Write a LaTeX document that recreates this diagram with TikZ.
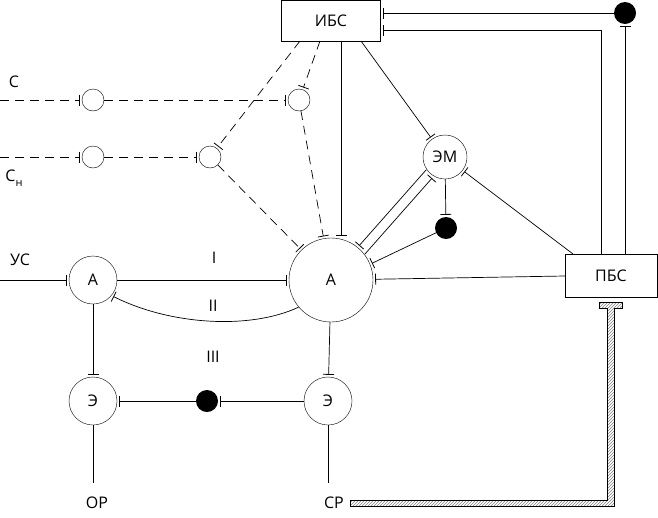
\documentclass[tikz,border=0pt]{standalone}
\usepackage{fontspec}
\setmainfont{Open Sans}
\usetikzlibrary{arrows.meta,patterns}
\begin{document}
\begin{tikzpicture}[x=1pt,y=-1pt,
  every node/.style={font=\fontsize{16}{18}\selectfont},
  c/.style={circle,draw,inner sep=0pt,minimum size=#1},
  dot/.style={circle,fill=black,inner sep=0pt,minimum size=22pt},
  box/.style={draw,inner sep=0pt},
  ln/.style={line width=0.7pt},
  bb/.style={ln,-{Bar[width=11pt,line width=0.8pt]},shorten >=2pt},
  bd/.style={bb,dash pattern=on 9pt off 6pt},
  lbl/.style={inner sep=0pt}]
\useasboundingbox (0,0) rectangle (658,517);
\node[box,minimum width=99pt,minimum height=41pt] (ibs) at (331,21) {ИБС};
\node[box,minimum width=92pt,minimum height=43pt] (pbs) at (611,276) {ПБС};
\node[c=84pt] (A) at (331,280) {А};
\node[c=44pt] (em) at (445,157) {ЭМ};
\node[dot] (d1) at (446,228) {};
\node[dot] (d2) at (625,13) {};
\node[dot] (d3) at (207,401) {};
\node[c=48pt] (a1) at (93,280) {А};
\node[c=48pt] (e1) at (93,401) {Э};
\node[c=48pt] (e2) at (328,401) {Э};
\node[c=22pt] (s1) at (93,100) {};
\node[c=22pt] (s2) at (299,100) {};
\node[c=22pt] (s3) at (93,157) {};
\node[c=22pt] (s4) at (210,157) {};
\coordinate (cin) at (0,100);
\coordinate (cnin) at (0,157);
\coordinate (usin) at (0,280);
\coordinate (or) at (93,483);
\coordinate (cr) at (328,483);
\coordinate (i1) at (381,13);
\coordinate (i2) at (381,30);
\coordinate (p1) at (601,254);
\coordinate (p2) at (625,254);
\node[lbl] (tc) at (14,82) {С};
\node[lbl] (tcn) at (14,178) {С\raisebox{-5pt}{\fontsize{11}{12}\selectfont н}};
\node[lbl] (tus) at (20,260) {УС};
\node[lbl] (t1) at (214,258) {I};
\node[lbl] (t2) at (213,306) {II};
\node[lbl] (t3) at (213,357) {III};
\node[lbl] (tor) at (97,503) {ОР};
\node[lbl] (tcr) at (334,503) {СР};
% dashed inputs
\draw[bd] (cin) -- (s1);
\draw[bd] (s1) -- (s2);
\draw[bd] (cnin) -- (s3);
\draw[bd] (s3) -- (s4);
\draw[bd] (300,41) -- (s4);
\draw[bd] (320,41) -- (s2);
\draw[bd] (s4) -- (A);
\draw[bd] (s2) -- (A.100);
% solid
\draw[bb] (341,41) -- (341,238);
\draw[bb] (361,41) -- (em);
\draw[ln,{Bar[width=11pt,line width=0.8pt]}-,shorten <=2pt] (i1) -- (d2);
\draw[ln,-{Bar[width=11pt,line width=0.8pt]},shorten >=2pt] (p1) |- (i2);
\draw[bb] (p2) -- (d2);
\draw[bb] (573,254) -- (em);
\draw[bb] (pbs.west) -- (A);
\draw[bb] (em) -- (d1);
\draw[bb] (d1) -- (A.22);
\draw[bb] ([shift={(-3,-3)}]em.225) -- ([shift={(-3,-3)}]A.45);
\draw[bb] ([shift={(4,4)}]A.45) -- ([shift={(4,4)}]em.225);
\draw[bb] (usin) -- (a1);
\draw[bb] (a1) -- (A);
\draw[bb] (A.220) .. controls (250,330) and (170,325) .. (a1.-40);
\draw[bb] (a1) -- (e1);
\draw[bb] (A) -- (e2);
\draw[bb] (d3) -- (e1);
\draw[bb] (e2) -- (d3);
\draw[ln] (e1) -- (or);
\draw[ln] (e2) -- (cr);
% hatched bar
\draw[ln,pattern=north east lines,pattern color=gray]
 (350,500) -- (607,500) -- (607,308) -- (599,308) -- (599,302) -- (622,302) -- (622,308) -- (614,308) -- (614,506) -- (350,506) -- cycle;
\end{tikzpicture}
\end{document}
